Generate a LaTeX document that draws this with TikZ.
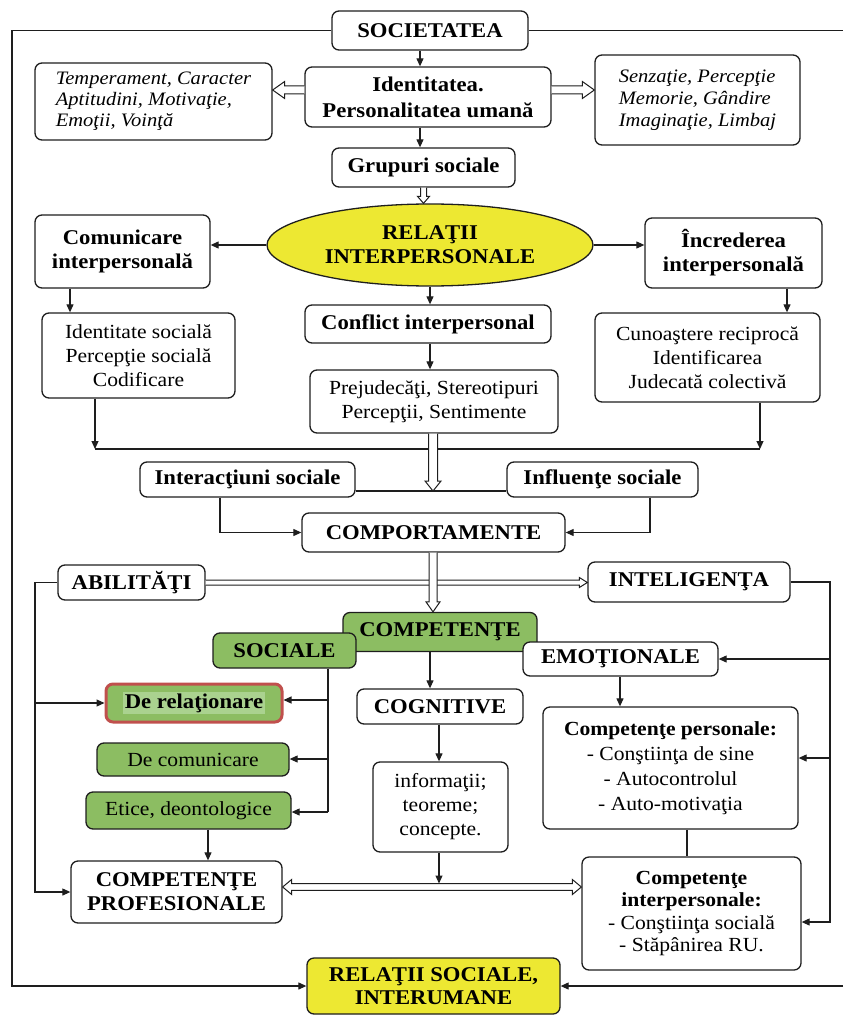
\documentclass[tikz,border=0pt]{standalone}
\usepackage{fontspec}
\setmainfont{Liberation Serif}[FakeStretch=1.08]
\usetikzlibrary{shapes.geometric,arrows.meta,calc}

\definecolor{inkline}{HTML}{1E1E1E}
\definecolor{leafgreen}{HTML}{8CBD62}
\definecolor{paleleaf}{HTML}{AAD28F}
\definecolor{sunyellow}{HTML}{EDE832}
\definecolor{brickred}{HTML}{C0504D}

\newcommand\fbold{\fontsize{21}{24}\selectfont\bfseries}
\newcommand\fplain{\fontsize{20}{24}\selectfont}
\newcommand\fital{\fontsize{19}{21}\selectfont\itshape}

% hollow block arrows: #1 start, #2 tip, #3 half shaft, #4 half head, #5 head length
\newcommand\hollowdown[5]{%
  \path[hollow] let \p1=(#1), \p2=(#2) in
    (\x1-#3pt,\y1) -- (\x1-#3pt,\y2+#5pt) -- (\x1-#4pt,\y2+#5pt) -- (\x1,\y2)
    -- (\x1+#4pt,\y2+#5pt) -- (\x1+#3pt,\y2+#5pt) -- (\x1+#3pt,\y1);}
\newcommand\hollowside[5]{%
  \path[hollow] let \p1=(#1), \p2=(#2), \n1={ifthenelse(\x2>\x1,1,-1)} in
    (\x1,\y1+#3pt) -- (\x2-\n1*#5pt,\y1+#3pt) -- (\x2-\n1*#5pt,\y1+#4pt) -- (\x2,\y1)
    -- (\x2-\n1*#5pt,\y1-#4pt) -- (\x2-\n1*#5pt,\y1-#3pt) -- (\x1,\y1-#3pt);}
\newcommand\hollowboth[5]{%
  \path[hollow] let \p1=(#1), \p2=(#2) in
    (\x1,\y1) -- (\x1+#5pt,\y1+#4pt) -- (\x1+#5pt,\y1+#3pt) -- (\x2-#5pt,\y1+#3pt)
    -- (\x2-#5pt,\y1+#4pt) -- (\x2,\y1) -- (\x2-#5pt,\y1-#4pt) -- (\x2-#5pt,\y1-#3pt)
    -- (\x1+#5pt,\y1-#3pt) -- (\x1+#5pt,\y1-#4pt) -- cycle;}

\tikzset{
  every node/.style={inner sep=0pt},
  box/.style={draw=inkline, line width=1.3pt, rounded corners=7pt, fill=white, align=center},
  hbox/.style={box, font=\fbold},
  pbox/.style={box, font=\fplain},
  ibox/.style={box, font=\fital, align=left},
  greenbox/.style={fill=leafgreen},
  link/.style={draw=inkline, line width=1.1pt},
  arr/.style={link, -{Triangle[length=8pt,width=7pt]}},
  hollow/.style={draw=inkline, line width=1pt, fill=white, line join=miter},
}

\begin{document}
\begin{tikzpicture}[x=1pt,y=-1pt]
\useasboundingbox (0,0) rectangle (843,1016);

% ---------- upper part ----------
\node[hbox, minimum width=196, minimum height=39] (soc) at (430,30.5) {SOCIETATEA};
\node[hbox, minimum width=246, minimum height=60, font=\fontsize{21}{26}\selectfont\bfseries] (ident) at (428,97) {Identitatea.\\Personalitatea umană};
\node[ibox, minimum width=237, minimum height=77] (lbox) at (153.5,101.5) {Temperament, Caracter\\Aptitudini, Motivaţie,\\Emoţii, Voinţă};
\node[ibox, minimum width=205, minimum height=90, font=\fontsize{19}{22}\selectfont\itshape] (rbox) at (697.5,100) {Senzaţie, Percepţie\\Memorie, Gândire\\Imaginaţie, Limbaj};
\node[hbox, minimum width=183, minimum height=39] (grup) at (423.5,167.5) {Grupuri sociale};

\node[ellipse, draw=inkline, line width=1.3pt, fill=sunyellow, minimum width=326, minimum height=82, align=center, font=\fbold] (rel) at (430,245) {RELAŢII\\INTERPERSONALE};
\node[hbox, minimum width=175, minimum height=73] (comu) at (122.5,251.5) {Comunicare\\interpersonală};
\node[hbox, minimum width=177, minimum height=70] (incr) at (733.5,253) {Încrederea\\interpersonală};
\node[hbox, minimum width=246, minimum height=38] (conf) at (428,324) {Conflict interpersonal};
\node[pbox, minimum width=248, minimum height=63] (prej) at (434,401.5) {Prejudecăţi, Stereotipuri\\Percepţii, Sentimente};
\node[pbox, minimum width=193, minimum height=85] (idsoc) at (138.5,355.5) {Identitate socială\\Percepţie socială\\Codificare};
\node[pbox, minimum width=225, minimum height=89] (cuno) at (707.5,357.5) {Cunoaştere reciprocă\\Identificarea\\Judecată colectivă};

\node[hbox, minimum width=215, minimum height=35] (inter) at (247.5,479.5) {Interacţiuni sociale};
\node[hbox, minimum width=191, minimum height=35] (infl) at (602.5,479.5) {Influenţe sociale};
\node[hbox, minimum width=263, minimum height=39] (comp) at (433.5,532.5) {COMPORTAMENTE};

\node[hbox, minimum width=147, minimum height=35] (abil) at (131.5,582.5) {ABILITĂŢI};
\node[hbox, minimum width=202, minimum height=40] (intel) at (689,582) {INTELIGENŢA};

% ---------- competences ----------
\node[hbox, greenbox, minimum width=194, minimum height=39] (compt) at (440,632) {COMPETENŢE};
\node[hbox, greenbox, minimum width=143, minimum height=35] (soci) at (284.5,650.5) {SOCIALE};
\node[hbox, minimum width=195, minimum height=34] (emo) at (620.5,659) {EMOŢIONALE};
\node[hbox, minimum width=166, minimum height=35] (cogn) at (440,706.5) {COGNITIVE};

\node[hbox, greenbox, draw=brickred, line width=3pt, minimum width=176, minimum height=38] (derel) at (194,703) {\setlength\fboxsep{1.5pt}\colorbox{paleleaf}{De relaţionare}};
\node[pbox, greenbox, minimum width=192, minimum height=33] (decom) at (193,759.5) {De comunicare};
\node[pbox, greenbox, minimum width=205, minimum height=37] (etic) at (188.5,810.5) {Etice, deontologice};
\node[hbox, minimum width=211, minimum height=62] (prof) at (176.5,892) {COMPETENŢE\\PROFESIONALE};

\node[pbox, minimum width=135, minimum height=90] (info) at (440.5,807) {informaţii;\\teoreme;\\concepte.};
\node[pbox, minimum width=255, minimum height=122, font=\fontsize{20}{25}\selectfont] (cpers) at (670.5,768) {\textbf{Competenţe personale:}\\- Conştiinţa de sine\\- Autocontrolul\\- Auto-motivaţia};
\node[pbox, minimum width=219, minimum height=113, font=\fontsize{20}{22.5}\selectfont] (cinter) at (691.5,913.5) {\textbf{Competenţe}\\\textbf{interpersonale:}\\- Conştiinţa socială\\- Stăpânirea RU.};

\node[hbox, fill=sunyellow, minimum width=253, minimum height=56, font=\fontsize{21}{23}\selectfont\bfseries] (rsoc) at (433.5,986) {RELAŢII SOCIALE,\\INTERUMANE};

% ---------- frame lines ----------
\coordinate (tl) at (12,30.5);
\coordinate (trr) at (843,30.5);
\coordinate (brr) at (843,986);
\draw[arr] (soc.west) -- (tl) |- (rsoc.west);
\draw[link] (soc.east) -- (trr);
\draw[arr] (brr) -- (rsoc.east);

% ---------- upper connectors ----------
\draw[arr] (420,0 |- soc.south) -- (420,0 |- ident.north);
\draw[arr] (420,0 |- ident.south) -- (420,0 |- grup.north);
\hollowdown{grup.south}{rel.north}{3}{6}{7}
\coordinate (hl0) at ([yshift=7pt]ident.west);
\coordinate (hl1) at (lbox.east |- hl0);
\coordinate (hr0) at ([yshift=7pt]ident.east);
\coordinate (hr1) at (rbox.west |- hr0);
\hollowside{hl0}{hl1}{4}{8.5}{12}
\hollowside{hr0}{hr1}{4}{8.5}{12}

\draw[arr] (rel.west) -- (rel.west -| comu.east);
\draw[arr] (rel.east) -- (rel.east -| incr.west);
\draw[arr] (rel.south) -- (rel.south |- conf.north);
\draw[arr] (430,0 |- conf.south) -- (430,0 |- prej.north);
\draw[arr] (70,0 |- comu.south) -- (70,0 |- idsoc.north);
\draw[arr] (787,0 |- incr.south) -- (787,0 |- cuno.north);

\coordinate (ha) at (95,449);
\coordinate (hb) at (760,449);
\draw[arr] (ha |- idsoc.south) -- (ha);
\draw[arr] (hb |- cuno.south) -- (hb);
\draw[link] (ha) -- (hb);

\coordinate (hv) at (433,491);
\coordinate (pv) at (433,0 |- prej.south);
\draw[link] (inter.east |- hv) -- (infl.west |- hv);
\hollowdown{pv}{hv}{4.5}{8}{10}

\draw[arr] (220,0 |- inter.south) |- (comp.west);
\draw[arr] (650,0 |- infl.south) |- (comp.east);

% ---------- middle connectors ----------
\coordinate (ai) at (abil.east -| intel.west);
\hollowside{abil.east}{ai}{2.5}{5}{8}
\coordinate (cv) at (433,0 |- comp.south);
\coordinate (cw) at (433,0 |- compt.north);
\hollowdown{cv}{cw}{4}{7}{10}

\coordinate (lb) at (35,0 |- abil.west);
\draw[arr] (abil.west) -- (lb) |- (prof.west);
\draw[arr] (lb |- derel.west) -- (derel.west);

\coordinate (rb) at (830,0 |- intel.east);
\coordinate (rb3) at (830,922);
\coordinate (rb2) at (830,758);
\draw[arr] (intel.east) -- (rb) -- (rb3) -- (rb3 -| cinter.east);
\draw[arr] (rb |- emo.east) -- (emo.east);
\draw[arr] (rb2) -- (rb2 -| cpers.east);

\draw[arr] (430,0 |- compt.south) -- (430,0 |- cogn.north);
\draw[arr] (439,0 |- cogn.south) -- (439,0 |- info.north);

\coordinate (sb) at (328,0 |- soci.south);
\coordinate (sb1) at (328,700);
\coordinate (sb2) at (328,759);
\coordinate (sb3) at (328,812);
\draw[link] (sb) -- (sb3);
\draw[arr] (sb1) -- (sb1 -| derel.east);
\draw[arr] (sb2) -- (sb2 -| decom.east);
\draw[arr] (sb3) -- (sb3 -| etic.east);
\draw[arr] (208,0 |- etic.south) -- (208,0 |- prof.north);

\draw[arr] (620,0 |- emo.south) -- (620,0 |- cpers.north);
\draw[link] (687,0 |- cpers.south) -- (687,0 |- cinter.north);

% ---------- lower connectors ----------
\coordinate (d0) at (prof.east |- 0,887);
\coordinate (d1) at (cinter.west |- d0);
\coordinate (pi) at (439,883.5);
\draw[arr] (439,0 |- info.south) -- (pi);
\hollowboth{d0}{d1}{3.3}{7.5}{9}

\end{tikzpicture}
\end{document}
